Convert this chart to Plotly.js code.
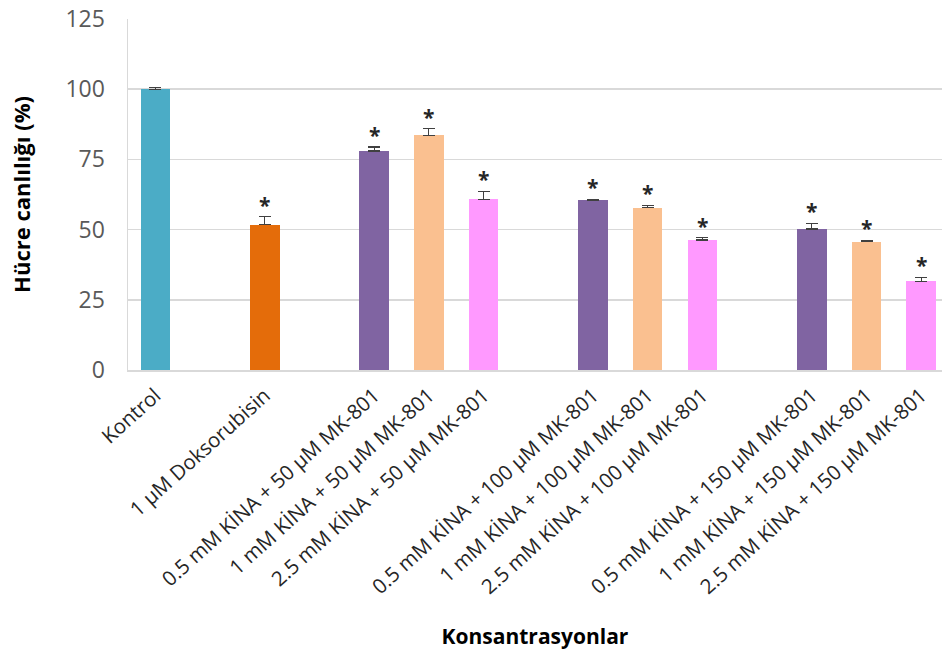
<!DOCTYPE html>
<html>
<head>
<meta charset="utf-8">
<script src="https://cdn.plot.ly/plotly-3.0.1.min.js"></script>
<style>
  html, body { margin: 0; padding: 0; background: #fff; }
  #chart { width: 942px; height: 655px; }
</style>
</head>
<body>
<div id="chart"></div>
<script>
// Treatment groups, in display order
const labels = [
  "Kontrol",
  "1 µM Doksorubisin",
  "0.5 mM KİNA + 50 µM MK-801",
  "1 mM KİNA + 50 µM MK-801",
  "2.5 mM KİNA + 50 µM MK-801",
  "0.5 mM KİNA + 100 µM MK-801",
  "1 mM KİNA + 100 µM MK-801",
  "2.5 mM KİNA + 100 µM MK-801",
  "0.5 mM KİNA + 150 µM MK-801",
  "1 mM KİNA + 150 µM MK-801",
  "2.5 mM KİNA + 150 µM MK-801"
];
// Cell viability (%) and its standard error (upper bar only)
const viability = [100, 51.8, 78.0, 83.6, 60.8, 60.4, 57.8, 46.3, 50.2, 45.7, 31.6];
const sem       = [0.6, 2.8, 1.4, 2.4, 2.9, 0.4, 0.9, 0.8, 2.0, 0.5, 1.4];
// Significance marks
const significant = [false, true, true, true, true, true, true, true, true, true, true];
// Bars per group; an empty slot separates consecutive groups
const groupSizes = [1, 1, 3, 3, 3];
const yTicks = [0, 25, 50, 75, 100, 125];

const colors = ["#4BACC6", "#E46C0A",
  "#8064A2", "#FAC090", "#FF99FF",
  "#8064A2", "#FAC090", "#FF99FF",
  "#8064A2", "#FAC090", "#FF99FF"];

// slot index of each bar along the category axis
const slots = [];
let s = 0;
groupSizes.forEach(n => {
  for (let i = 0; i < n; i++) slots.push(s++);
  s++;
});

const trace = {
  type: "bar",
  x: slots,
  y: viability,
  width: 0.54,
  marker: { color: colors, line: { width: 0 } },
  error_y: {
    type: "data", symmetric: false,
    array: sem, arrayminus: sem.map(() => 0),
    color: "#404040", thickness: 1.2, width: 6
  },
  hoverinfo: "x+y"
};

const stars = [];
slots.forEach((x, i) => {
  if (!significant[i]) return;
  stars.push({
    x: x, y: viability[i] + sem[i], xref: "x", yref: "y",
    text: "<b>*</b>", showarrow: false, yanchor: "bottom", yshift: -4,
    font: { family: "Open Sans, sans-serif", size: 21, color: "#262626" }
  });
});

const layout = {
  width: 942, height: 655,
  margin: { l: 128, r: 0, t: 19, b: 285 },
  paper_bgcolor: "#fff", plot_bgcolor: "#fff",
  showlegend: false,
  bargap: 0,
  xaxis: {
    range: [-0.5, 14.38],
    tickvals: slots, ticktext: labels,
    tickangle: -42,
    tickfont: { family: "Open Sans, sans-serif", size: 20.5, color: "#262626" },
    showgrid: false, zeroline: false,
    showline: true, linecolor: "#D9D9D9", linewidth: 1.5,
    ticks: "", ticklabelstandoff: 4,
    title: {
      text: "Konsantrasyonlar",
      font: { family: "Open Sans, sans-serif", size: 21, color: "#000", weight: "bold" },
      standoff: 30
    }
  },
  yaxis: {
    range: [0, 125],
    tickvals: yTicks,
    tickfont: { family: "Open Sans, sans-serif", size: 23, color: "#595959" },
    showgrid: true, gridcolor: "#D9D9D9", gridwidth: 1.5,
    zeroline: false,
    showline: true, linecolor: "#D9D9D9", linewidth: 1.5,
    ticks: "", ticklabelstandoff: 17,
    title: {
      text: "Hücre canlılığı (%)",
      font: { family: "Open Sans, sans-serif", size: 22, color: "#000", weight: "bold" },
      standoff: 28
    }
  },
  annotations: stars
};

Plotly.newPlot("chart", [trace], layout, { displayModeBar: false, staticPlot: true });
</script>
</body>
</html>
